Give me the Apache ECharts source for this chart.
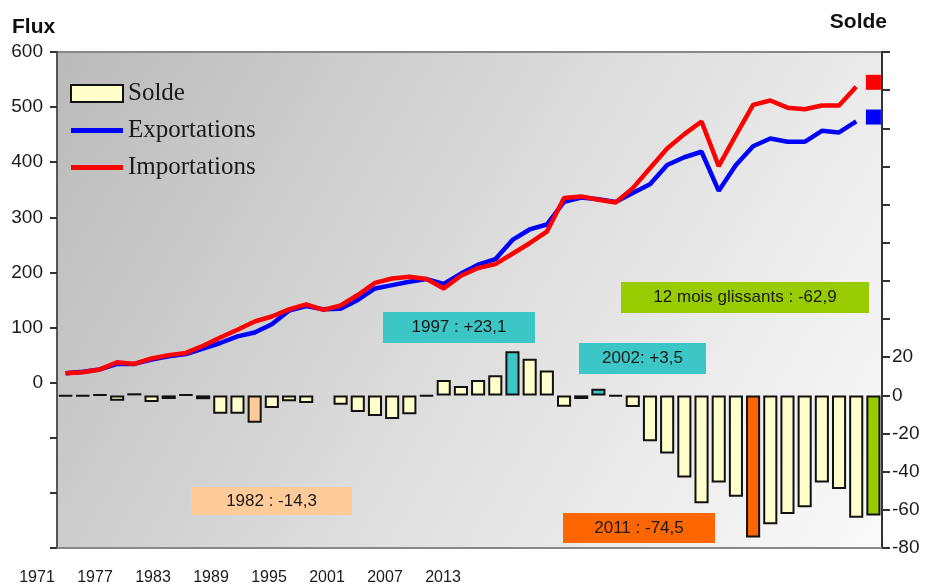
<!DOCTYPE html>
<html>
<head>
<meta charset="utf-8">
<title>Flux et solde</title>
<script src="https://cdn.jsdelivr.net/npm/echarts@6/dist/echarts.min.js"></script>
<style>
  html, body { margin: 0; padding: 0; background: #fff; }
  #chart { width: 928px; height: 587px; }
</style>
</head>
<body>
<div id="chart"></div>
<script>
// categories: years + last "12 mois glissants" bar
const categories = ['1971','1972','1973','1974','1975','1976','1977','1978','1979','1980',
  '1981','1982','1983','1984','1985','1986','1987','1988','1989','1990',
  '1991','1992','1993','1994','1995','1996','1997','1998','1999','2000',
  '2001','2002','2003','2004','2005','2006','2007','2008','2009','2010',
  '2011','2012','2013','2014','2015','2016','2017','12 mois']

// solde (right axis)
const solde = [-0.3, -0.3, 0.3, -2.8, 1.1, -3.5, -1.9, 0.3, -2.0, -9.6,
  -9.6, -14.3, -6.6, -3.1, -4.0, null, -4.9, -8.7, -10.8, -12.4,
  -9.9, -0.3, 8.0, 4.9, 8.1, 10.5, 23.1, 19.2, 13.0, -5.9,
  -1.9, 3.5, -0.5, -6.1, -24.0, -30.4, -43.0, -56.6, -45.7, -53.1,
  -74.5, -67.6, -62.2, -58.7, -45.7, -49.1, -64.1, -62.9]

// flux (left axis), 1971-2017
const exportations = [17, 20, 24, 34, 34, 42, 48, 52, 62, 72,
  84, 91, 106, 131, 139, 133, 134, 150, 171, 177,
  183, 188, 179, 198, 214, 224, 259, 278, 287, 328,
  336, 333, 328, 344, 360, 395, 409, 419, 348, 395,
  429, 443, 437, 437, 457, 454, 474]
const importations = [17, 19, 24, 37, 34, 44, 50, 54, 67, 82,
  96, 111, 120, 133, 142, 132, 140, 159, 181, 189,
  192, 188, 171, 194, 208, 215, 234, 253, 274, 335,
  338, 332, 327, 353, 389, 425, 451, 474, 393, 449,
  504, 512, 499, 496, 503, 503, 537]

// 12 mois glissants
const export12 = 482
const import12 = 545

// tick labels of the bottom axis
const xTickLabels = ['1971', '1977', '1983', '1989', '1995', '2001', '2007', '2013']

// highlighted bars
const highlight = {
  '1982': '#ffcc99',
  '1997': '#3cc6c6',
  '2002': '#3cc6c6',
  '2011': '#ff6600',
  '12 mois': '#99cc00'
}

const last = categories.length - 1
const soldeData = solde.map((v, i) => {
  const c = highlight[categories[i]]
  return c ? { value: v, itemStyle: { color: c } } : v
})
const onlyLast = v => categories.map((c, i) => (i === last ? v : null))

const font = 'Liberation Sans, Arial, sans-serif'
// thick line icon for the legend (tiny corner marks keep the 52x17 box)
const lineIcon = 'path://M0,0 L0.01,0 L0.01,0.01 Z M0,6 L52,6 L52,11 L0,11 Z M52,17 L51.99,17 L51.99,16.99 Z'

function note(x, y, w, h, fill, text) {
  return {
    type: 'group',
    children: [
      { type: 'rect', shape: { x: x, y: y, width: w, height: h }, style: { fill: fill } },
      {
        type: 'text', x: x + w / 2, y: y + h / 2,
        style: { text: text, fill: '#1a1a1a', font: '17px ' + font, align: 'center', verticalAlign: 'middle' }
      }
    ]
  }
}

const option = {
  animation: false,
  backgroundColor: '#fff',
  grid: [
    {
      left: 57, right: 46, top: 52, bottom: 39,
      show: true,
      borderColor: '#888',
      borderWidth: 2,
      backgroundColor: {
        type: 'linear', x: 0, y: 0, x2: 1, y2: 1,
        colorStops: [
          { offset: 0, color: '#bababa' },
          { offset: 0.55, color: '#e0e0e0' },
          { offset: 1, color: '#fafafa' }
        ]
      }
    },
    { left: 37, width: 406, top: 547, height: 1, show: false }
  ],
  legend: {
    left: 65,
    top: 76,
    orient: 'vertical',
    itemWidth: 52,
    itemHeight: 17,
    itemGap: 12,
    data: [
      { name: 'Solde', icon: 'rect' },
      { name: 'Exportations', icon: lineIcon },
      { name: 'Importations', icon: lineIcon }
    ],
    textStyle: { fontFamily: 'Liberation Serif, Times New Roman, serif', fontSize: 25, color: '#1a1a1a', lineHeight: 21 }
  },
  xAxis: [
    {
      type: 'category',
      gridIndex: 0,
      data: categories,
      boundaryGap: true,
      axisLine: { show: true, onZero: false, lineStyle: { color: '#888', width: 2 } },
      axisTick: { show: false },
      axisLabel: { show: false },
      splitLine: { show: false }
    },
    {
      type: 'category',
      gridIndex: 1,
      data: xTickLabels,
      boundaryGap: false,
      axisLine: { show: false },
      axisTick: { show: false },
      splitLine: { show: false },
      axisLabel: {
        interval: 0,
        margin: 22,
        fontFamily: 'Liberation Sans Narrow, Arial Narrow, ' + font,
        fontSize: 16,
        color: '#1a1a1a'
      }
    }
  ],
  yAxis: [
    {
      type: 'value',
      gridIndex: 0,
      position: 'left',
      min: -300, max: 600, interval: 100,
      axisLine: { show: true, lineStyle: { color: '#555', width: 2 } },
      axisTick: { show: true, length: 7, lineStyle: { color: '#333', width: 2 } },
      splitLine: { show: false },
      axisLabel: {
        margin: 14,
        fontFamily: font, fontSize: 19, color: '#1a1a1a',
        formatter: v => (v >= 0 ? String(v) : '')
      }
    },
    {
      type: 'value',
      gridIndex: 0,
      position: 'right',
      min: -80, max: 180, interval: 20,
      axisLine: { show: true, lineStyle: { color: '#333', width: 2 } },
      axisTick: { show: true, length: 8, lineStyle: { color: '#333', width: 2 } },
      splitLine: { show: false },
      axisLabel: {
        margin: 10,
        fontFamily: font, fontSize: 19, color: '#1a1a1a',
        formatter: v => (v <= 20 ? String(v) : '')
      }
    },
    { type: 'value', gridIndex: 1, show: false }
  ],
  series: [
    {
      name: 'Solde',
      type: 'bar',
      xAxisIndex: 0,
      yAxisIndex: 1,
      data: soldeData,
      barCategoryGap: '18%',
      itemStyle: { color: '#ffffcc', borderColor: '#111', borderWidth: 2 }
    },
    {
      name: 'Exportations',
      type: 'line',
      xAxisIndex: 0,
      yAxisIndex: 0,
      data: exportations,
      symbol: 'none',
      lineStyle: { color: '#0000ff', width: 4.5 },
      itemStyle: { color: '#0000ff' }
    },
    {
      name: 'Importations',
      type: 'line',
      xAxisIndex: 0,
      yAxisIndex: 0,
      data: importations,
      symbol: 'none',
      lineStyle: { color: '#ff0000', width: 4.5 },
      itemStyle: { color: '#ff0000' }
    },
    {
      name: 'Exportations 12 mois',
      type: 'scatter',
      xAxisIndex: 0,
      yAxisIndex: 0,
      data: onlyLast(export12),
      symbol: 'rect',
      symbolSize: 15,
      itemStyle: { color: '#0000ff', opacity: 1 }
    },
    {
      name: 'Importations 12 mois',
      type: 'scatter',
      xAxisIndex: 0,
      yAxisIndex: 0,
      data: onlyLast(import12),
      symbol: 'rect',
      symbolSize: 15,
      itemStyle: { color: '#ff0000', opacity: 1 }
    }
  ],
  graphic: [
    { type: 'text', left: 12, top: 17, style: { text: 'Flux', font: 'bold 21px ' + font, fill: '#111' } },
    { type: 'text', right: 41, top: 12, style: { text: 'Solde', font: 'bold 21px ' + font, fill: '#111' } },
    note(383, 312, 152, 31, '#3cc6c6', '1997 : +23,1'),
    note(579, 343, 127, 31, '#3cc6c6', '2002: +3,5'),
    note(621, 282, 248, 31, '#99cc00', '12 mois glissants : -62,9'),
    note(191, 487, 161, 28, '#ffcc99', '1982 : -14,3'),
    note(563, 513, 152, 30, '#ff6600', '2011 : -74,5')
  ]
}

const myChart = echarts.init(document.getElementById('chart'))
myChart.setOption(option, true)
</script>
</body>
</html>
